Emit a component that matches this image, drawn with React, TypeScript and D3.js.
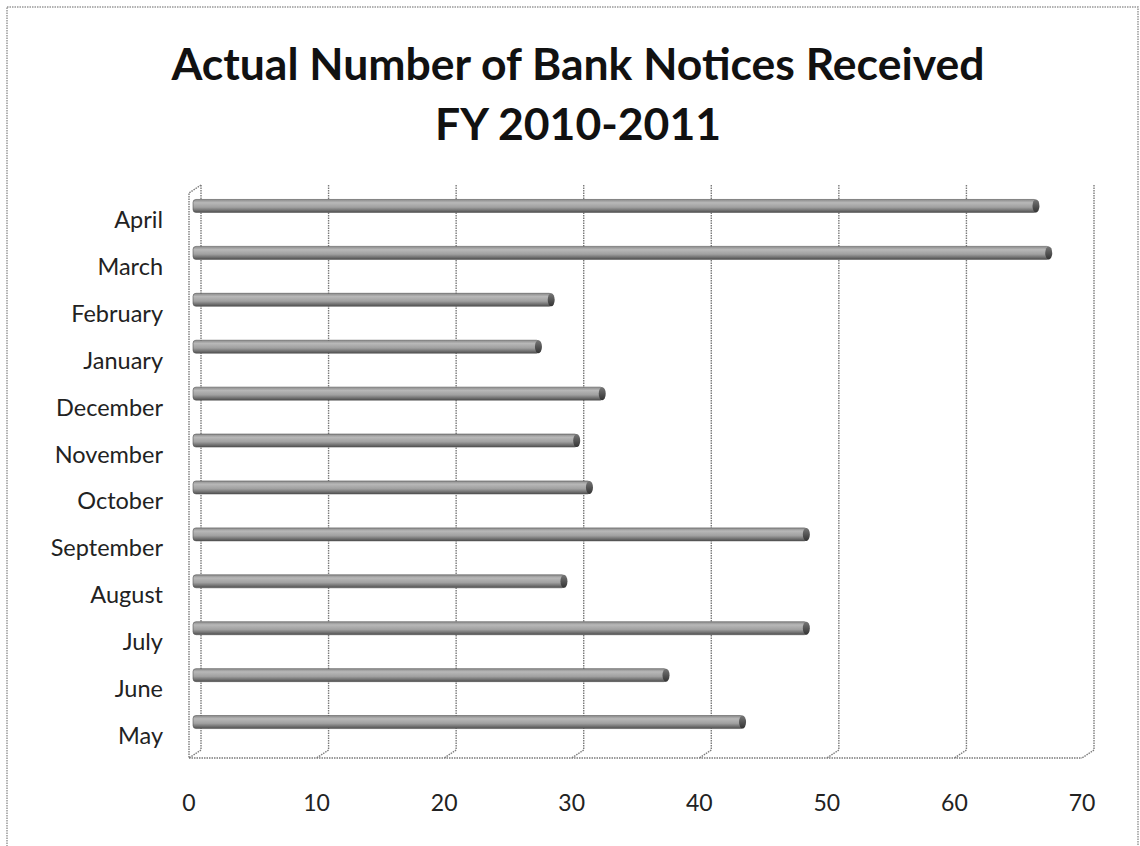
import React from "react";
import * as d3 from "d3";

const categories = ["May", "June", "July", "August", "September", "October", "November", "December", "January", "February", "March", "April"];
const values = [43, 37, 48, 29, 48, 31, 30, 32, 27, 28, 67, 66];
const ticks = [0, 10, 20, 30, 40, 50, 60, 70];
const titleLines = ["Actual Number of Bank Notices Received", "FY 2010-2011"];

const W = 1140, H = 846;
const DX = 12, DY = 8;

export default function App() {
  const xFront = d3.scaleLinear().domain([0, 70]).range([189, 1082]);
  const xBack = (v: number) => xFront(v) + DX;
  const xBar = (v: number) => xFront(v) + DX / 2;
  const order = [...categories].reverse();
  const y = d3.scaleBand<string>().domain(order).range([182.5, 745.5]).paddingInner(0).paddingOuter(0);
  const cy = (c: string) => (y(c) as number) + y.bandwidth() / 2;
  const floorY = 758, backBottom = floorY - DY, top = 185;
  const barH = 13;
  const grid = "#7a7a7a";
  const font = "Lato, 'Open Sans', sans-serif";

  return (
    <div style={{ position: "fixed", left: 0, top: 0 }}>
      <svg width={W} height={H} style={{ display: "block", background: "#fff" }}>
        <defs>
          <linearGradient id="cyl" x1="0" y1="0" x2="0" y2="1">
            <stop offset="0" stopColor="#8a8a8a" />
            <stop offset="0.25" stopColor="#b8b8b8" />
            <stop offset="0.6" stopColor="#a0a0a0" />
            <stop offset="1" stopColor="#505050" />
          </linearGradient>
          <linearGradient id="cap" x1="0" y1="0" x2="0" y2="1">
            <stop offset="0" stopColor="#777" />
            <stop offset="1" stopColor="#333" />
          </linearGradient>
        </defs>
        <rect x={7} y={7} width={1131} height={845} fill="none" stroke="#999" strokeWidth={1.5} strokeDasharray="1.5,1" />
        {titleLines.map((t, i) => (
          <text key={i} x={578} y={80 + i * 60} textAnchor="middle" fontFamily={font} fontWeight={700} fontSize={44.5} fill="#111">{t}</text>
        ))}
        {/* back wall gridlines */}
        {ticks.map((t) => (
          <g key={t}>
            <line x1={xBack(t)} x2={xBack(t)} y1={top} y2={backBottom} stroke={grid} strokeWidth={1.4} strokeDasharray="1.5,1" />
            <path d={`M${xBack(t)},${backBottom} L${xFront(t)},${floorY}`} stroke={grid} strokeWidth={1.4} fill="none" strokeDasharray="1.5,1" />
          </g>
        ))}
        {/* left wall */}
        <path d={`M${xBack(0)},${top} L${xFront(0)},${top + DY} L${xFront(0)},${floorY}`} stroke={grid} strokeWidth={1.4} fill="none" strokeDasharray="1.5,1" />
        {/* floor front edge */}
        <line x1={xFront(0)} x2={xFront(70)} y1={floorY} y2={floorY} stroke={grid} strokeWidth={1.4} strokeDasharray="1.5,1" />
        {/* bars */}
        {order.map((c) => {
          const v = values[categories.indexOf(c)];
          const x0 = xBar(0) - 2, x1 = xBar(v);
          const yc = cy(c);
          return (
            <g key={c}>
              <rect x={x0} y={yc - barH / 2} width={x1 - x0} height={barH} rx={3} fill="url(#cyl)" stroke="#555" strokeWidth={0.6} />
              <ellipse cx={x1 - 1} cy={yc} rx={3.5} ry={barH / 2} fill="url(#cap)" />
            </g>
          );
        })}
        {/* category labels */}
        {order.map((c) => (
          <text key={c} x={163} y={cy(c) + 22} textAnchor="end" fontFamily={font} fontSize={23.5} fill="#222">{c}</text>
        ))}
        {/* tick labels */}
        {ticks.map((t) => (
          <text key={t} x={xFront(t)} y={811} textAnchor="middle" fontFamily={font} fontSize={23} fill="#222">{t}</text>
        ))}
      </svg>
    </div>
  );
}
